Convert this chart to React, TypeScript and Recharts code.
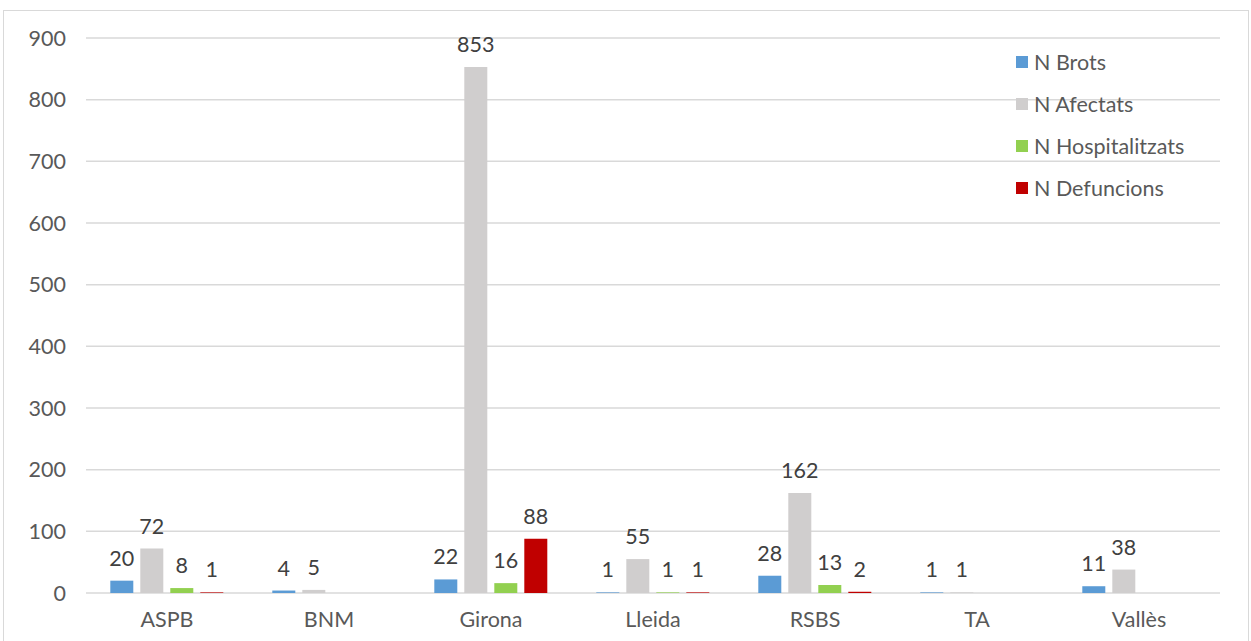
import React from 'react';
import { BarChart, Bar, XAxis, YAxis, CartesianGrid, LabelList } from 'recharts';

const categories = ['ASPB', 'BNM', 'Girona', 'Lleida', 'RSBS', 'TA', 'Vallès'];
const brots = [20, 4, 22, 1, 28, 1, 11];
const afectats = [72, 5, 853, 55, 162, 1, 38];
const hospitalitzats = [8, null, 16, 1, 13, null, null];
const defuncions = [1, null, 88, 1, 2, null, null];
const yTicks = [0, 100, 200, 300, 400, 500, 600, 700, 800, 900];

const series = [
  { key: 'brots', name: 'N Brots', color: '#5b9bd5' },
  { key: 'afectats', name: 'N Afectats', color: '#d0cece' },
  { key: 'hosp', name: 'N Hospitalitzats', color: '#92d050' },
  { key: 'def', name: 'N Defuncions', color: '#c00000' },
];

const data = categories.map((c, i) => ({
  name: c,
  brots: brots[i],
  afectats: afectats[i],
  hosp: hospitalitzats[i],
  def: defuncions[i],
}));

const FONT = 'Lato, "Open Sans", sans-serif';
const FS = 21.5;

function LegendBox() {
  return (
    <div style={{ fontFamily: FONT, fontSize: FS, color: '#595959' }}>
      {series.map((s) => (
        <div key={s.key} style={{ display: 'flex', alignItems: 'center', height: 42 }}>
          <span style={{ width: 12, height: 12, background: s.color, marginRight: 6 }} />
          <span>{s.name}</span>
        </div>
      ))}
    </div>
  );
}

export default function App() {
  return (
    <div style={{ position: 'fixed', left: 0, top: 0, width: 1251, height: 641, background: '#fff', overflow: 'hidden' }}>
      <div
        style={{
          position: 'absolute',
          left: 3,
          top: 10,
          width: 1244,
          height: 660,
          border: '1.5px solid #d9d9d9',
        }}
      />
      <div style={{ position: 'absolute', left: 0, top: 0 }}>
        <BarChart
          width={1251}
          height={641}
          data={data}
          margin={{ top: 38, right: 31, bottom: 0, left: 0 }}
          barCategoryGap="15%"
          barGap={7}
        >
          <CartesianGrid vertical={false} stroke="#d9d9d9" strokeWidth={1.5} />
          <XAxis
            dataKey="name"
            height={48}
            axisLine={false}
            tickLine={false}
            tickSize={0}
            tickMargin={19}
            tick={{ fontFamily: FONT, fontSize: FS, fill: '#595959' }}
          />
          <YAxis
            width={86}
            domain={[0, 900]}
            ticks={yTicks}
            axisLine={false}
            tickLine={false}
            tickSize={0}
            tickMargin={20}
            tick={{ fontFamily: FONT, fontSize: FS, fill: '#595959' }}
          />
          {series.map((s) => (
            <Bar key={s.key} dataKey={s.key} name={s.name} fill={s.color} isAnimationActive={false}>
              <LabelList
                dataKey={s.key}
                position="top"
                offset={15}
                style={{ fontFamily: FONT, fontSize: FS, fill: '#404040' }}
              />
            </Bar>
          ))}
        </BarChart>
      </div>
      <div style={{ position: 'absolute', left: 1016, top: 41 }}>
        <LegendBox />
      </div>
    </div>
  );
}
